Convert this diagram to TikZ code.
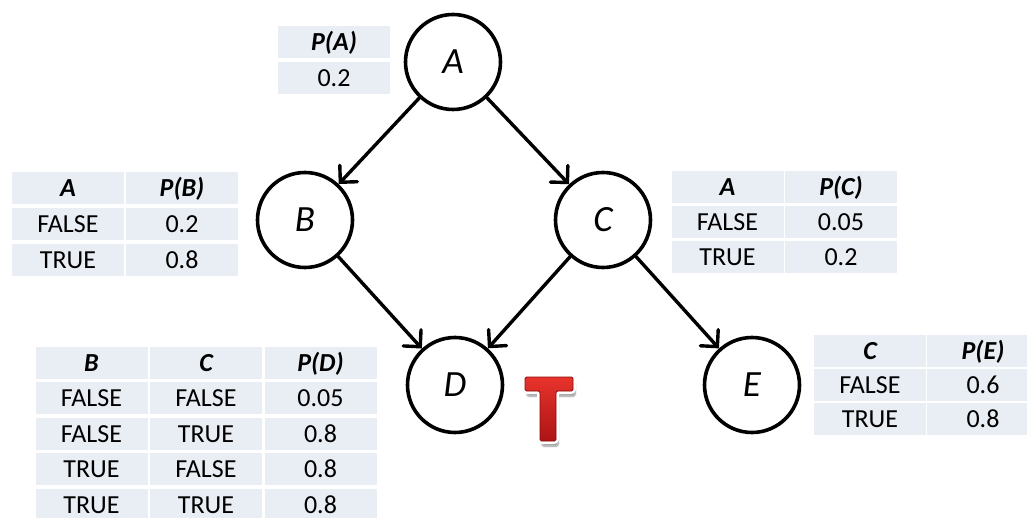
\documentclass[tikz,border=0pt]{standalone}
\usepackage{fontspec}
\setmainfont{Carlito}
\usetikzlibrary{arrows.meta,shadows.blur}
\definecolor{cellbg}{RGB}{233,237,244}
\definecolor{tred}{RGB}{232,52,44}
\definecolor{tdark}{RGB}{172,20,20}
\definecolor{tedge}{RGB}{140,10,10}
\begin{document}
\begin{tikzpicture}[x=1pt,y=-1pt,
  var/.style={circle, draw, line width=3.6pt, minimum size=95pt, inner sep=0pt,
    font=\fontsize{37}{37}\selectfont\itshape},
  link/.style={line width=3.4pt, line cap=round,
    -{Straight Barb[length=12pt,width=24pt,line cap=round]}},
  cell/.style={fill=cellbg, inner sep=0pt, minimum height=32pt, minimum width=112pt,
    text height=17pt, text depth=0pt, font=\fontsize{26}{26}\selectfont},
  hd/.style={cell, font=\fontsize{26}{26}\selectfont\bfseries\itshape}]
\useasboundingbox (0,0) rectangle (1027,518);
\clip (0,0) rectangle (1027,518);

% network nodes
\node[var] (A) at (453,62)  {A};
\node[var] (B) at (305,220) {B};
\node[var] (C) at (603,220) {C};
\node[var] (D) at (455,385) {D};
\node[var] (E) at (752,385) {E};

% directed edges
\draw[link] (A) -- (B);
\draw[link] (A) -- (C);
\draw[link] (B) -- (D);
\draw[link] (C) -- (D);
\draw[link] (C) -- (E);

% table for A
\node[hd]   (pa-h) at (334,42) {P(A)};
\node[cell] (pa-1) at (334,78) {0.2};

% table for B
\node[hd]   (tb-h1) at (68,188)  {A};
\node[hd]   (tb-h2) at (182,188) {P(B)};
\node[cell] (tb-11) at (68,224)  {FALSE};
\node[cell] (tb-12) at (182,224) {0.2};
\node[cell] (tb-21) at (68,260)  {TRUE};
\node[cell] (tb-22) at (182,260) {0.8};

% table for C
\node[hd]   (tc-h1) at (727.5,187) {A};
\node[hd]   (tc-h2) at (841,187)   {P(C)};
\node[cell] (tc-11) at (727.5,222) {FALSE};
\node[cell] (tc-12) at (841,222)   {0.05};
\node[cell] (tc-21) at (727.5,257) {TRUE};
\node[cell] (tc-22) at (841,257)   {0.2};

% table for D
\node[hd]   (td-h1) at (91.5,362.5) {B};
\node[hd]   (td-h2) at (206,362.5)  {C};
\node[hd]   (td-h3) at (320.5,362.5){P(D)};
\node[cell] (td-11) at (91.5,398)   {FALSE};
\node[cell] (td-12) at (206,398)    {FALSE};
\node[cell] (td-13) at (320.5,398)  {0.05};
\node[cell] (td-21) at (91.5,433.5) {FALSE};
\node[cell] (td-22) at (206,433.5)  {TRUE};
\node[cell] (td-23) at (320.5,433.5){0.8};
\node[cell] (td-31) at (91.5,469)   {TRUE};
\node[cell] (td-32) at (206,469)    {FALSE};
\node[cell] (td-33) at (320.5,469)  {0.8};
\node[cell] (td-41) at (91.5,504.5) {TRUE};
\node[cell] (td-42) at (206,504.5)  {TRUE};
\node[cell] (td-43) at (320.5,504.5){0.8};

% table for E
\node[hd]   (te-h1) at (870,351) {C};
\node[hd]   (te-h2) at (983,351) {P(E)};
\node[cell] (te-11) at (870,385) {FALSE};
\node[cell] (te-12) at (983,385) {0.6};
\node[cell] (te-21) at (870,419) {TRUE};
\node[cell] (te-22) at (983,419) {0.8};

% red "T" marker beside D
\path[preaction={blur shadow={shadow xshift=2pt,shadow yshift=-5pt,shadow blur steps=8,shadow opacity=45}},
      preaction={draw=white, line width=6pt, line join=round},
      top color=tred, bottom color=tdark, draw=tedge, line width=0.8pt,
      rounded corners=1.5pt]
  (525,377) -- (573,377) -- (573,391) -- (556,391) -- (556,441)
  -- (540,441) -- (540,391) -- (525,391) -- cycle;
\end{tikzpicture}
\end{document}
